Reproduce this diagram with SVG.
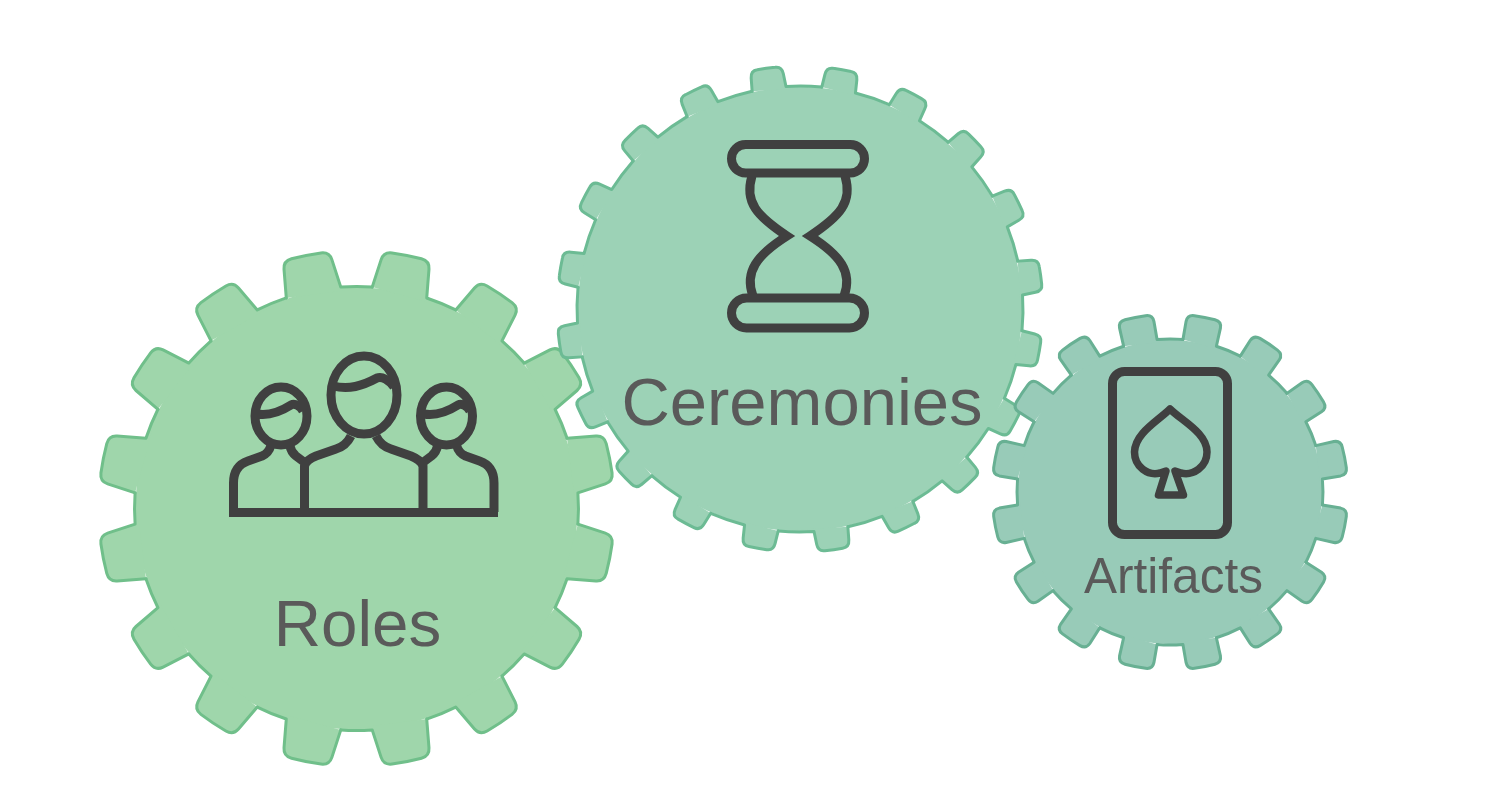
<svg xmlns="http://www.w3.org/2000/svg" width="1490" height="798" viewBox="0 0 1490 798">
<style>
.ic{fill:none;stroke:#404040;stroke-width:9;stroke-linejoin:round}
.lb{font-family:"Liberation Sans",Arial,sans-serif;fill:#5a5a5a;text-anchor:middle}
.st{stroke-width:3;stroke-linejoin:round;stroke-linecap:round}
.r{fill:#9fd6ab}.rs{fill:#9fd6ab;stroke:#6fbf8a}
.c{fill:#9cd2b6}.cs{fill:#9cd2b6;stroke:#6cbb94}
.a{fill:#98cbb8}.as{fill:#98cbb8;stroke:#67b093}
</style>
<defs>
<filter id="soft" x="0" y="0" width="100%" height="100%"><feGaussianBlur stdDeviation="0.6"/></filter>
<path id="tr" class="st" d="M-27.8 -220.2L-24.4 -248.9Q-23.4 -257 -15 -257.6A258 258 0 0 1 15 -257.6Q23.4 -257 24.4 -248.9L27.8 -220.2A222 222 0 0 1 58.6 -214.1"/>
<path id="tc" class="st" d="M-17.1 -222.3L-16.2 -235.5Q-15.7 -242.8 -9 -242.8A243 243 0 0 1 9 -242.8Q15.7 -242.8 16.2 -235.5L17.1 -222.3A223 223 0 0 1 52.4 -216.8"/>
<path id="ta" class="st" d="M-17.05 -152L-17.5 -170.5Q-17.4 -177.3 -10.5 -177.7A178 178 0 0 1 10.5 -177.7Q17.4 -177.3 17.5 -170.5L17.05 -152A153 153 0 0 1 42.4 -147"/>
</defs>
<rect width="1490" height="798" fill="#ffffff"/>
<g id="connectors"></g>
<g filter="url(#soft)">
<g id="roles">
<g transform="translate(356.5 508.5)">
<circle class="r" r="221"/>
<g class="rs">
<use href="#tr" transform="rotate(11.25)"/><use href="#tr" transform="rotate(33.75)"/><use href="#tr" transform="rotate(56.25)"/><use href="#tr" transform="rotate(78.75)"/>
<use href="#tr" transform="rotate(101.25)"/><use href="#tr" transform="rotate(123.75)"/><use href="#tr" transform="rotate(146.25)"/><use href="#tr" transform="rotate(168.75)"/>
<use href="#tr" transform="rotate(191.25)"/><use href="#tr" transform="rotate(213.75)"/><use href="#tr" transform="rotate(236.25)"/><use href="#tr" transform="rotate(258.75)"/>
<use href="#tr" transform="rotate(281.25)"/><use href="#tr" transform="rotate(303.75)"/><use href="#tr" transform="rotate(326.25)"/><use href="#tr" transform="rotate(348.75)"/>
</g>
</g>
<ellipse class="ic" cx="364" cy="395" rx="33" ry="39"/>
<ellipse class="ic" cx="281" cy="416" rx="26" ry="29"/>
<ellipse class="ic" cx="446.5" cy="416" rx="26" ry="29"/>
<path class="ic" d="M333 386C349 390 362 386 377 378C382 376 389 380 394 387M257 414C269 416 280 412 291 405C295 403 300 406 303 411M424 414C436 416 447 412 458 405C462 403 467 406 470 411"/>
<path class="ic" d="M304.5 512V466Q306 460 316 456L336 449Q346 446 351 436M423 512V466Q421 460 411 456L391 449Q381 446 376 436"/>
<path class="ic" d="M233.5 512V483Q233.5 466 248 461L262 456Q269 453 271 445M290 446Q291 452 296 456L304 462M494 512V483Q494 466 479.5 461L465.5 456Q458.5 453 456.5 445M437.5 446Q436.5 452 431.5 456L423.5 462M229 512.5H498"/>
<text class="lb" x="357.5" y="646" font-size="65.5">Roles</text>
</g>
<g id="ceremonies">
<g transform="translate(800 309)">
<circle class="c" r="222"/>
<g class="cs">
<use href="#tc" transform="rotate(10)"/><use href="#tc" transform="rotate(28)"/><use href="#tc" transform="rotate(46)"/><use href="#tc" transform="rotate(64)"/><use href="#tc" transform="rotate(82)"/>
<use href="#tc" transform="rotate(100)"/><use href="#tc" transform="rotate(118)"/><use href="#tc" transform="rotate(136)"/><use href="#tc" transform="rotate(154)"/><use href="#tc" transform="rotate(172)"/>
<use href="#tc" transform="rotate(190)"/><use href="#tc" transform="rotate(208)"/><use href="#tc" transform="rotate(226)"/><use href="#tc" transform="rotate(244)"/><use href="#tc" transform="rotate(262)"/>
<use href="#tc" transform="rotate(280)"/><use href="#tc" transform="rotate(298)"/><use href="#tc" transform="rotate(316)"/><use href="#tc" transform="rotate(334)"/><use href="#tc" transform="rotate(352)"/>
</g>
</g>
<rect class="ic" x="731.5" y="144.5" width="133" height="28.5" rx="14.2"/>
<rect class="ic" x="731.5" y="298" width="133" height="30" rx="15"/>
<path class="ic" style="stroke-linejoin:miter" d="M752 176C744 202 757 216 787 236C757 255 744 272 753 296M845 176C853 202 840 216 810 236C840 255 853 272 844 296"/>
<text class="lb" x="802" y="425" font-size="67">Ceremonies</text>
</g>
<g id="artifacts">
<g transform="translate(1170 492)">
<circle class="a" r="152"/>
<g class="as">
<use href="#ta" transform="rotate(11.25)"/><use href="#ta" transform="rotate(33.75)"/><use href="#ta" transform="rotate(56.25)"/><use href="#ta" transform="rotate(78.75)"/>
<use href="#ta" transform="rotate(101.25)"/><use href="#ta" transform="rotate(123.75)"/><use href="#ta" transform="rotate(146.25)"/><use href="#ta" transform="rotate(168.75)"/>
<use href="#ta" transform="rotate(191.25)"/><use href="#ta" transform="rotate(213.75)"/><use href="#ta" transform="rotate(236.25)"/><use href="#ta" transform="rotate(258.75)"/>
<use href="#ta" transform="rotate(281.25)"/><use href="#ta" transform="rotate(303.75)"/><use href="#ta" transform="rotate(326.25)"/><use href="#ta" transform="rotate(348.75)"/>
</g>
</g>
<rect class="ic" x="1112.5" y="371.5" width="115" height="163" rx="12"/>
<path class="ic" style="stroke-width:7.5" d="M1170 409C1158 421 1135 433 1134.5 452C1134.5 467 1148 476 1160 473L1166 471L1158.5 495H1183.5L1175 471L1181 473C1193 476 1207 467 1207 452C1207 433 1182 421 1170 409Z"/>
<text class="lb" x="1173.5" y="593" font-size="49.5">Artifacts</text>
</g>
</g>
</svg>
